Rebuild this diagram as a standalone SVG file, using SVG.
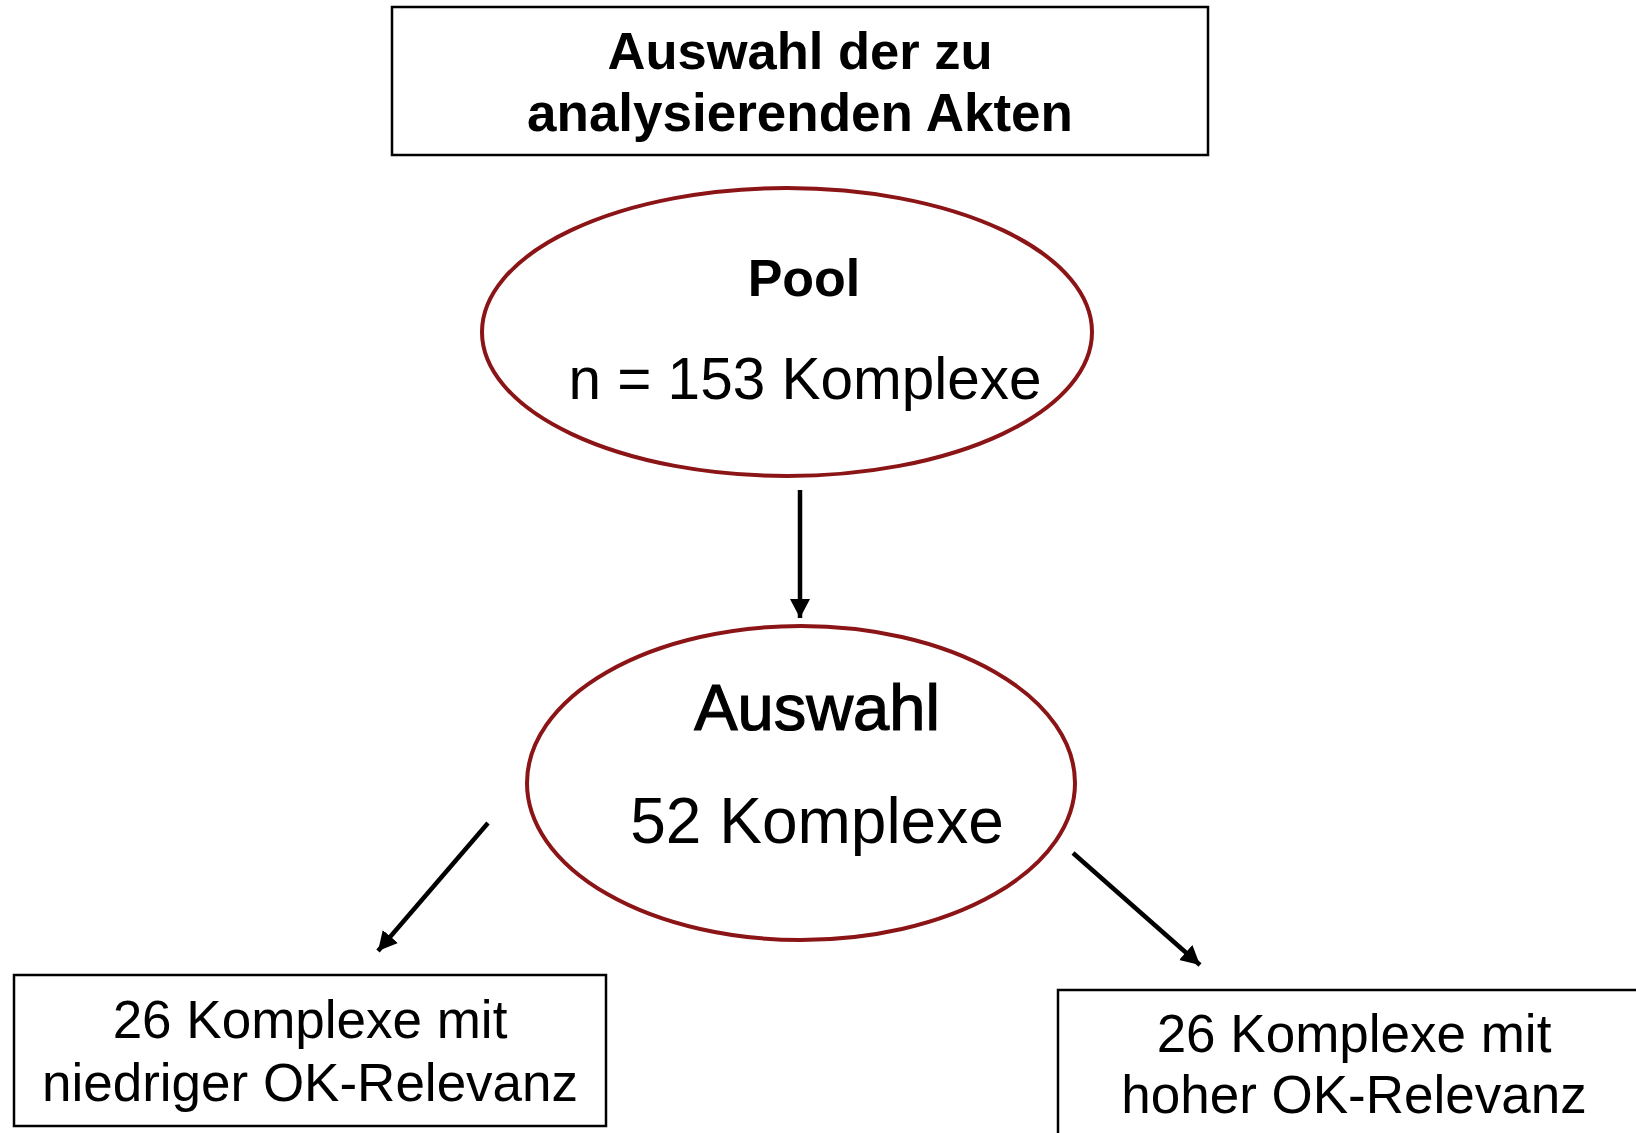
<svg xmlns="http://www.w3.org/2000/svg" width="1636" height="1133" viewBox="0 0 1636 1133">
<style>
  .box { fill: #ffffff; stroke: #000000; stroke-width: 2.5; }
  .ell { fill: #ffffff; stroke: #8a1416; stroke-width: 4; }
  .t { font-family: "Liberation Sans", Arial, sans-serif; fill: #000000; text-anchor: middle; }
  .b { font-weight: bold; }
  .conn { stroke: #000000; stroke-width: 4.5; fill: none; }
</style>
<defs>
  <marker id="ah" markerUnits="userSpaceOnUse" markerWidth="24" markerHeight="22" refX="19" refY="10" orient="auto">
    <path d="M0,0 L19,10 L0,20 Z" fill="#000000"/>
  </marker>
</defs>
<rect width="1636" height="1133" fill="#ffffff"/>
<g id="title">
  <rect class="box" x="392" y="7" width="816" height="148"/>
  <text class="t b" x="800" y="69" font-size="52.5">Auswahl der zu</text>
  <text class="t b" x="800" y="131" font-size="53">analysierenden Akten</text>
</g>
<g id="pool">
  <ellipse class="ell" cx="787" cy="332" rx="305" ry="144"/>
  <text class="t b" x="804" y="296" font-size="52">Pool</text>
  <text class="t" x="805" y="399" font-size="58.5">n = 153 Komplexe</text>
</g>
<g id="auswahl">
  <ellipse class="ell" cx="801" cy="783" rx="274" ry="157"/>
  <text class="t" x="817" y="730" font-size="65" stroke="#000" stroke-width="1.2">Auswahl</text>
  <text class="t" x="817" y="843" font-size="64">52 Komplexe</text>
</g>
<g id="niedrig">
  <rect class="box" x="14" y="975" width="592" height="151"/>
  <text class="t" x="310" y="1038" font-size="53">26 Komplexe mit</text>
  <text class="t" x="310" y="1101" font-size="53">niedriger OK-Relevanz</text>
</g>
<g id="hoch">
  <rect class="box" x="1058" y="990" width="620" height="200"/>
  <text class="t" x="1354" y="1052" font-size="53">26 Komplexe mit</text>
  <text class="t" x="1354" y="1113" font-size="53">hoher OK-Relevanz</text>
</g>
<g id="connectors">
  <line class="conn" x1="800" y1="490" x2="800" y2="618" marker-end="url(#ah)"/>
  <line class="conn" x1="488" y1="823" x2="378" y2="951" marker-end="url(#ah)"/>
  <line class="conn" x1="1073" y1="853" x2="1200" y2="965" marker-end="url(#ah)"/>
</g>
</svg>
